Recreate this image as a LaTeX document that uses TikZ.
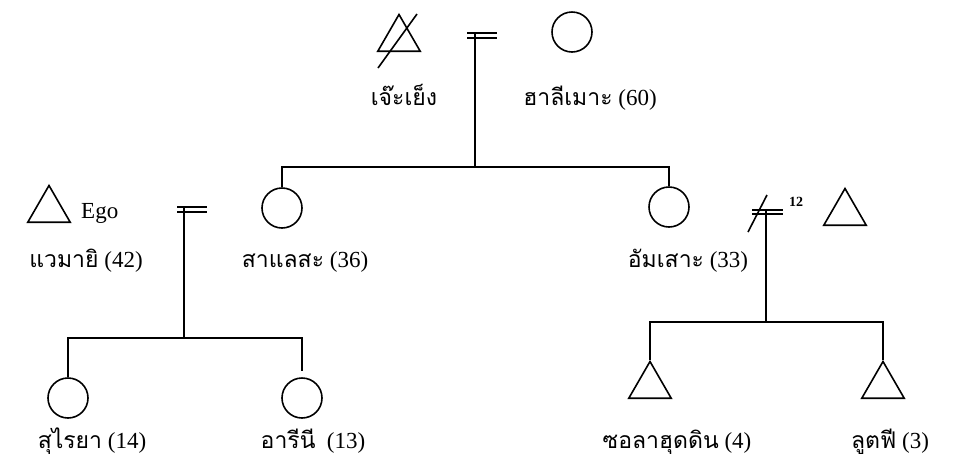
\documentclass[tikz,border=0pt]{standalone}
\usepackage{fontspec}
\setmainfont{Liberation Serif}
\newfontfamily\thaifont[Script=Thai,Scale=1.0]{Loma}
\usetikzlibrary{shapes.geometric}
\begin{document}
\begin{tikzpicture}[x=1pt,y=-1pt,
  ln/.style={line width=1.6pt},
  male/.style={draw,line width=1.6pt,regular polygon,regular polygon sides=3,minimum size=49pt,inner sep=0pt},
  female/.style={draw,line width=1.6pt,circle,minimum size=40pt,inner sep=0pt},
  lbl/.style={anchor=base,inner sep=0pt,font=\fontsize{23}{27}\selectfont},
  ]
\useasboundingbox (0,0) rectangle (954,459);
% generation 1
\node[male] (jj) at (399,39) {};
\draw[ln] (417,14) -- (378,68);
\node[female] (hl) at (572,32) {};
\coordinate (m1t) at (475,33);
\coordinate (m1b) at (475,167);
\draw[ln] (m1t) -- (m1b);
\draw[ln] ([xshift=-8pt]m1t) -- ([xshift=22pt]m1t);
\draw[ln] ([xshift=-8pt,yshift=-5pt]m1t) -- ([xshift=22pt,yshift=-5pt]m1t);
\node[lbl] (jjl) at (404,105) {\thaifont เจ๊ะเย็ง};
\node[lbl] (hll) at (590,105) {{\thaifont ฮาลีเมาะ} (60)};
% generation 2
\coordinate (s1L) at (282,167);
\coordinate (s1R) at (669,167);
\node[female] (sl) at (282,208) {};
\node[female] (am) at (669,207) {};
\draw[ln] (sl.north) -- (s1L) -- (s1R) -- (am.north);
\node[male] (ego) at (49,210) {};
\node[lbl,anchor=base west] (egol) at (81,218) {Ego};
\node[lbl] (egon) at (86,267) {{\thaifont แวมายิ} (42)};
\node[lbl] (sll) at (305,267) {{\thaifont สาแลสะ} (36)};
\node[lbl] (aml) at (688,267) {{\thaifont อัมเสาะ} (33)};
% marriage 2
\coordinate (m2t) at (184,207);
\coordinate (m2b) at (184,338);
\draw[ln] (m2t) -- (m2b);
\draw[ln] ([xshift=-7pt]m2t) -- ([xshift=23pt]m2t);
\draw[ln] ([xshift=-7pt,yshift=-5pt]m2t) -- ([xshift=23pt,yshift=-5pt]m2t);
\coordinate (c1L) at (68,338);
\coordinate (c1R) at (302,338);
\node[female] (su) at (68,398) {};
\node[female] (ar) at (302,398) {};
\draw[ln] (su.north) -- (c1L) -- (c1R) -- ([yshift=6pt]ar.north);
\node[lbl] (sul) at (92,448) {{\thaifont สุไรยา} (14)};
\node[lbl] (arl) at (313,448) {{\thaifont อารีนี}\ \ (13)};
% marriage 3
\node[male] (hus) at (845,213) {};
\coordinate (m3t) at (766,210);
\coordinate (m3b) at (766,322);
\draw[ln] (m3t) -- (m3b);
\draw[ln] ([xshift=-14pt]m3t) -- ([xshift=17pt]m3t);
\draw[ln] ([xshift=-14pt,yshift=-4pt]m3t) -- ([xshift=17pt,yshift=-4pt]m3t);
\draw[ln] (767,195) -- (748,232);
\node[anchor=base west,inner sep=0pt,font=\bfseries\fontsize{14}{16}\selectfont] (twelve) at (789,206) {12};
\coordinate (c2L) at (650,322);
\coordinate (c2R) at (883,322);
\node[male] (so) at (650,386) {};
\node[male] (lu) at (883,386) {};
\draw[ln] (so.north) -- (c2L) -- (c2R) -- (lu.north);
\node[lbl] (sol) at (677,448) {{\thaifont ซอลาฮุดดิน} (4)};
\node[lbl] (lul) at (890,448) {{\thaifont ลูตฟี} (3)};
\end{tikzpicture}
\end{document}
